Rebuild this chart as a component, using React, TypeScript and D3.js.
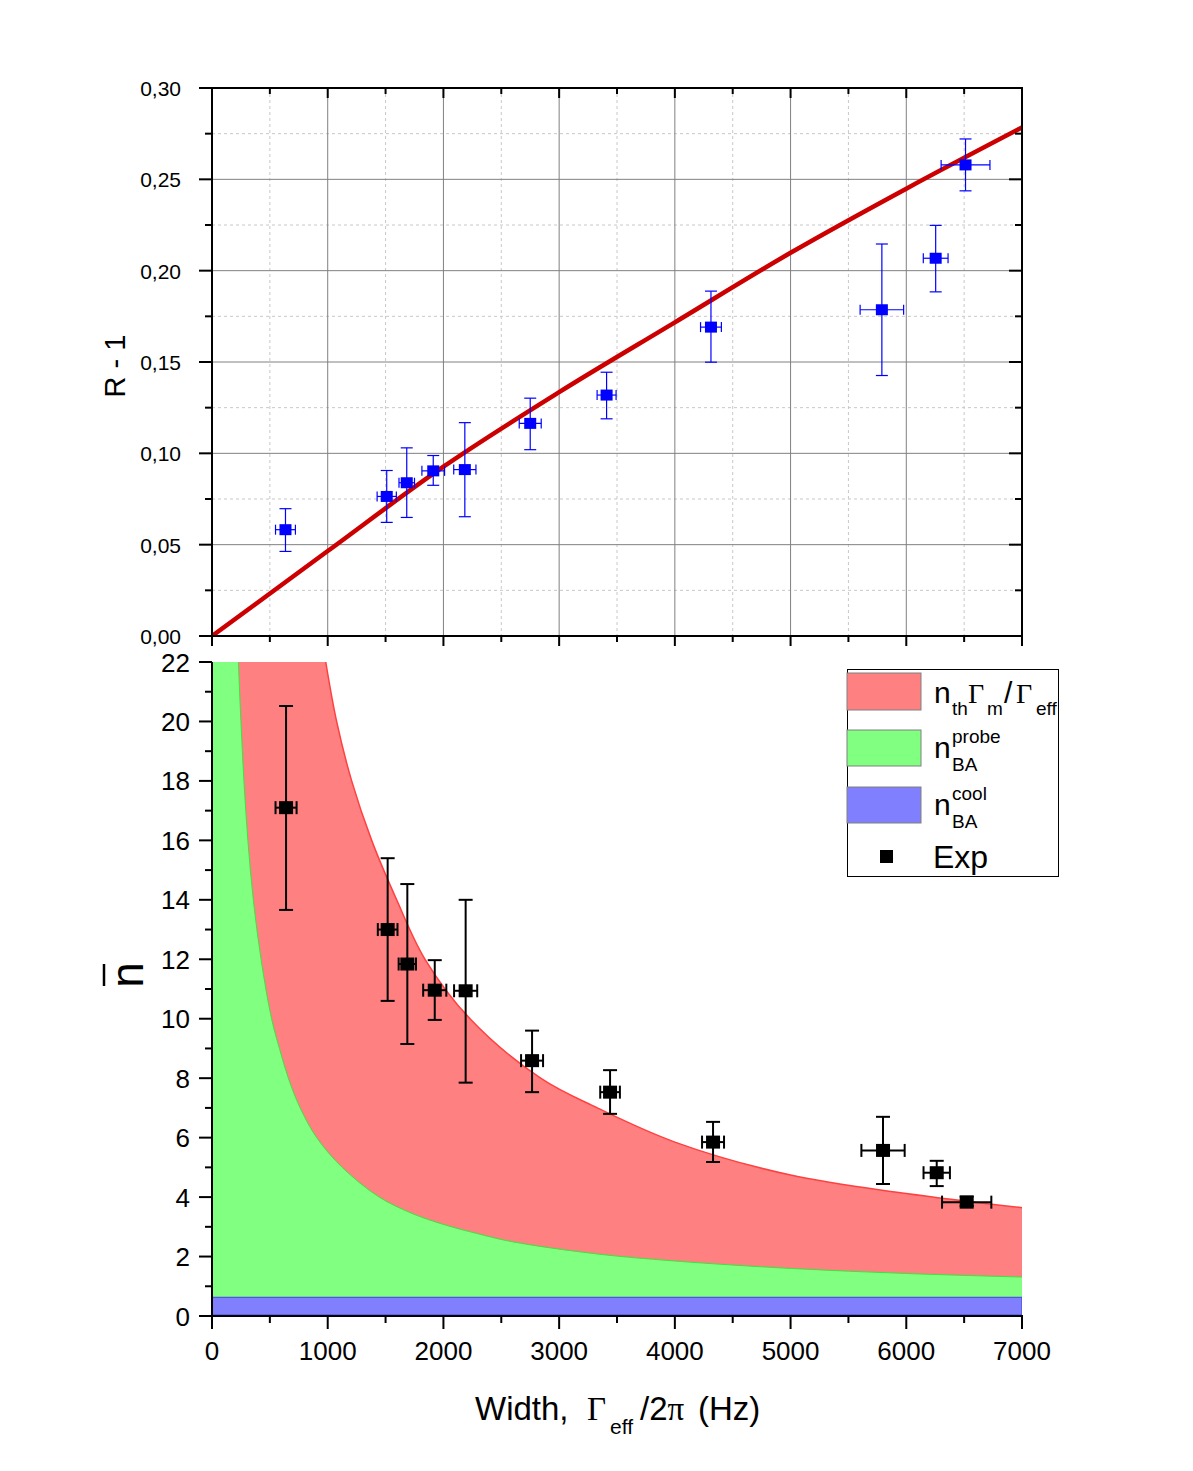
import React from "react";
import * as d3 from "d3";

// axes
const widthTicks = [0, 1000, 2000, 3000, 4000, 5000, 6000, 7000];
const ratioTicks = [0, 0.05, 0.1, 0.15, 0.2, 0.25, 0.3];
const ratioTickLabels = ["0,00", "0,05", "0,10", "0,15", "0,20", "0,25", "0,30"];
const occupancyTicks = [0, 2, 4, 6, 8, 10, 12, 14, 16, 18, 20, 22];

// top panel: R - 1 measurements
const ratioWidth = [635, 1510, 1683, 1912, 2185, 2750, 3410, 4312, 5789, 6254, 6512];
const ratioWidthErr = [86, 83, 67, 98, 96, 95, 82, 90, 188, 107, 211];
const ratioValue = [0.0582, 0.0764, 0.0839, 0.0904, 0.0911, 0.1164, 0.1319, 0.1691, 0.1786, 0.2068, 0.2579];
const ratioLow = [0.0463, 0.0622, 0.0649, 0.0825, 0.0653, 0.102, 0.1189, 0.1499, 0.1426, 0.1884, 0.2437];
const ratioHigh = [0.0697, 0.0906, 0.103, 0.0988, 0.1168, 0.1302, 0.1444, 0.1888, 0.2146, 0.2248, 0.2721];

// top panel: fit line
const fitWidth = [0, 1000, 2000, 3000, 4000, 5000, 6000, 7000];
const fitValue = [0, 0.0465, 0.0927, 0.1335, 0.1717, 0.2098, 0.2449, 0.2784];

// bottom panel: occupancy measurements
const occWidth = [640, 1518, 1688, 1925, 2192, 2766, 3440, 4330, 5799, 6263, 6522];
const occWidthErr = [91, 85, 75, 100, 100, 95, 85, 95, 187, 114, 213];
const occValue = [17.1, 13.0, 11.84, 10.96, 10.94, 8.59, 7.53, 5.85, 5.57, 4.82, 3.83];
const occLow = [13.66, 10.6, 9.15, 9.96, 7.85, 7.53, 6.8, 5.18, 4.44, 4.37, 3.7];
const occHigh = [20.52, 15.4, 14.53, 11.97, 14.0, 9.6, 8.27, 6.53, 6.7, 5.22, 4.02];

// bottom panel: stacked contributions (upper edges)
const thermalWidth = [983, 1077, 1207, 1380, 1596, 1841, 2230, 2840, 3330, 4000, 5000, 6000, 7000];
const thermalTop = [22, 20, 18, 16, 14, 12, 10, 8, 7, 5.85, 4.74, 4.12, 3.64];
const probeWidth = [228, 250, 276, 310, 357, 424, 515, 583, 660, 762, 905, 1125, 1441, 1729, 2017, 2305, 2593, 3300, 4000, 5000, 6000, 7000];
const probeTop = [22, 20, 18, 16, 14, 12, 10, 9, 8, 7, 6, 5, 4.01, 3.45, 3.06, 2.76, 2.5, 2.1, 1.85, 1.6, 1.43, 1.31];
const coolWidth = [0, 7000];
const coolTop = [0.63, 0.63];

const SANS = "'Liberation Sans', Arial, sans-serif";
const SERIF = "'Liberation Serif', 'Times New Roman', serif";

const App: React.FC = () => {
  const W = 1193;
  const H = 1471;

  const x = d3.scaleLinear().domain([0, 7000]).range([212, 1022]);
  const yTop = d3.scaleLinear().domain([0, 0.3]).range([636, 88]);
  const yBot = d3.scaleLinear().domain([0, 22]).range([1316, 662]);

  const midTicks = (t: number[]) => d3.pairs(t).map(([a, b]) => (a + b) / 2);
  const xMinor = midTicks(widthTicks);
  const ratioMinor = midTicks(ratioTicks);
  const occMinor = midTicks(occupancyTicks);

  const fitLine =
    d3
      .line<number>()
      .x((d) => x(d))
      .y((_, i) => yTop(fitValue[i]))
      .curve(d3.curveMonotoneX)(fitWidth) || "";

  // upper edge of a band, and the filled region from x=0 (top of panel) down along it
  const bandEdge = (xs: number[], ys: number[]) =>
    d3
      .line<number>()
      .x((d) => x(d))
      .y((_, i) => yBot(ys[i]))
      .curve(d3.curveCatmullRom.alpha(0.5))(xs) || "";
  const bandPath = (xs: number[], ys: number[]) =>
    `M${x(0)},${yBot(0)}L${x(0)},${yBot(22)}` +
    bandEdge(xs, ys).replace(/^M/, "L") +
    `L${x(xs[xs.length - 1])},${yBot(0)}Z`;

  const coolArea =
    d3
      .area<number>()
      .x((d) => x(d))
      .y0(yBot(0) - 1)
      .y1((_, i) => yBot(coolTop[i]))(coolWidth) || "";

  return (
    <svg
      width={W}
      height={H}
      style={{ position: "absolute", left: 0, top: 0, background: "#fff" }}
      fontFamily={SANS}
    >
      <defs>
        <clipPath id="botClip">
          <rect x={212} y={662} width={810} height={653} />
        </clipPath>
        <clipPath id="topClip">
          <rect x={212} y={88} width={810} height={548} />
        </clipPath>
      </defs>

      {/* ===== Top panel ===== */}
      <g>
        {/* minor grid */}
        {xMinor.map((v) => (
          <line key={"gxm" + v} x1={x(v)} x2={x(v)} y1={88} y2={636} stroke="#c8c8c8" strokeDasharray="3,3" />
        ))}
        {ratioMinor.map((v) => (
          <line key={"gym" + v} x1={212} x2={1022} y1={yTop(v)} y2={yTop(v)} stroke="#c8c8c8" strokeDasharray="3,3" />
        ))}
        {/* major grid */}
        {widthTicks.slice(1, -1).map((v) => (
          <line key={"gx" + v} x1={x(v)} x2={x(v)} y1={88} y2={636} stroke="#808080" />
        ))}
        {ratioTicks.slice(1, -1).map((v) => (
          <line key={"gy" + v} x1={212} x2={1022} y1={yTop(v)} y2={yTop(v)} stroke="#808080" />
        ))}

        {/* fit */}
        <path d={fitLine} fill="none" stroke="#cc0000" strokeWidth={4.5} clipPath="url(#topClip)" />

        {/* error bars + points */}
        {ratioWidth.map((w, i) => {
          const cx = x(w);
          const cy = yTop(ratioValue[i]);
          const xl = x(w - ratioWidthErr[i]);
          const xr = x(w + ratioWidthErr[i]);
          const yh = yTop(ratioHigh[i]);
          const yl = yTop(ratioLow[i]);
          return (
            <g key={"rp" + i} stroke="#0000ff" strokeWidth={1.2}>
              <line x1={cx} x2={cx} y1={yh} y2={yl} />
              <line x1={cx - 6} x2={cx + 6} y1={yh} y2={yh} />
              <line x1={cx - 6} x2={cx + 6} y1={yl} y2={yl} />
              <line x1={xl} x2={xr} y1={cy} y2={cy} />
              <line x1={xl} x2={xl} y1={cy - 5} y2={cy + 5} />
              <line x1={xr} x2={xr} y1={cy - 5} y2={cy + 5} />
              <rect x={cx - 6} y={cy - 5.5} width={12} height={11} fill="#0000ff" stroke="none" />
            </g>
          );
        })}

        {/* frame */}
        <rect x={212} y={88} width={810} height={548} fill="none" stroke="#000" strokeWidth={2} />

        {/* left ticks (outward) */}
        {ratioTicks.map((v, i) => (
          <g key={"lt" + v}>
            <line x1={199} x2={212} y1={yTop(v)} y2={yTop(v)} stroke="#000" strokeWidth={2} />
            <text x={181} y={yTop(v) + 8} fontSize={21} textAnchor="end">
              {ratioTickLabels[i]}
            </text>
          </g>
        ))}
        {ratioMinor.map((v) => (
          <line key={"ltm" + v} x1={205} x2={212} y1={yTop(v)} y2={yTop(v)} stroke="#000" strokeWidth={2} />
        ))}
        {/* right ticks (inward) */}
        {ratioTicks.map((v) => (
          <line key={"rt" + v} x1={1009} x2={1022} y1={yTop(v)} y2={yTop(v)} stroke="#000" strokeWidth={2} />
        ))}
        {ratioMinor.map((v) => (
          <line key={"rtm" + v} x1={1015} x2={1022} y1={yTop(v)} y2={yTop(v)} stroke="#000" strokeWidth={2} />
        ))}
        {/* top ticks (inward) and bottom ticks (outward) */}
        {widthTicks.map((v) => (
          <g key={"tt" + v}>
            <line x1={x(v)} x2={x(v)} y1={88} y2={98} stroke="#000" strokeWidth={2} />
            <line x1={x(v)} x2={x(v)} y1={636} y2={646} stroke="#000" strokeWidth={2} />
          </g>
        ))}
        {xMinor.map((v) => (
          <g key={"ttm" + v}>
            <line x1={x(v)} x2={x(v)} y1={88} y2={94} stroke="#000" strokeWidth={2} />
            <line x1={x(v)} x2={x(v)} y1={636} y2={642} stroke="#000" strokeWidth={2} />
          </g>
        ))}

        <text transform="translate(125,366) rotate(-90)" fontSize={29} textAnchor="middle">
          R - 1
        </text>
      </g>

      {/* ===== Bottom panel ===== */}
      <g>
        <g clipPath="url(#botClip)">
          <path d={bandPath(thermalWidth, thermalTop)} fill="#ff8080" />
          <path d={bandEdge(thermalWidth, thermalTop)} fill="none" stroke="#ff4040" strokeWidth={1.5} />
          <path d={bandPath(probeWidth, probeTop)} fill="#80ff80" />
          <path d={bandEdge(probeWidth, probeTop)} fill="none" stroke="#40e040" strokeWidth={1} />
          <path d={coolArea} fill="#8080ff" stroke="#4040e0" strokeWidth={1} />
        </g>

        {occWidth.map((w, i) => {
          const cx = x(w);
          const cy = yBot(occValue[i]);
          const xl = x(w - occWidthErr[i]);
          const xr = x(w + occWidthErr[i]);
          const yh = yBot(occHigh[i]);
          const yl = yBot(occLow[i]);
          return (
            <g key={"op" + i} stroke="#000" strokeWidth={2}>
              <line x1={cx} x2={cx} y1={yh} y2={yl} />
              <line x1={cx - 7} x2={cx + 7} y1={yh} y2={yh} />
              <line x1={cx - 7} x2={cx + 7} y1={yl} y2={yl} />
              <line x1={xl} x2={xr} y1={cy} y2={cy} />
              <line x1={xl} x2={xl} y1={cy - 6.5} y2={cy + 6.5} />
              <line x1={xr} x2={xr} y1={cy - 6.5} y2={cy + 6.5} />
              <rect x={cx - 7} y={cy - 6.5} width={14} height={13} fill="#000" stroke="none" />
            </g>
          );
        })}

        {/* axes */}
        <line x1={212} x2={212} y1={662} y2={1317} stroke="#000" strokeWidth={2} />
        <line x1={211} x2={1023} y1={1316} y2={1316} stroke="#000" strokeWidth={2} />
        {occupancyTicks.map((v) => (
          <g key={"bl" + v}>
            <line x1={199} x2={212} y1={yBot(v)} y2={yBot(v)} stroke="#000" strokeWidth={2} />
            <text x={190} y={yBot(v) + 9.5} fontSize={26} textAnchor="end">
              {v}
            </text>
          </g>
        ))}
        {occMinor.map((v) => (
          <line key={"blm" + v} x1={205} x2={212} y1={yBot(v)} y2={yBot(v)} stroke="#000" strokeWidth={2} />
        ))}
        {widthTicks.map((v) => (
          <g key={"bx" + v}>
            <line x1={x(v)} x2={x(v)} y1={1316} y2={1329} stroke="#000" strokeWidth={2} />
            <text x={x(v)} y={1360} fontSize={26} textAnchor="middle">
              {v}
            </text>
          </g>
        ))}
        {xMinor.map((v) => (
          <line key={"bxm" + v} x1={x(v)} x2={x(v)} y1={1316} y2={1323} stroke="#000" strokeWidth={2} />
        ))}

        {/* y label: n with overbar */}
        <g transform="translate(143,975) rotate(-90)">
          <text x={0} y={0} fontSize={46} textAnchor="middle">
            n
          </text>
          <line x1={-11} x2={11} y1={-39} y2={-39} stroke="#000" strokeWidth={2.5} />
        </g>

        {/* x label */}
        <text y={1420} fontSize={33}>
          <tspan x={475}>Width,</tspan>
          <tspan x={587} fontFamily={SERIF}>Γ</tspan>
          <tspan x={610} y={1434} fontSize={21}>eff</tspan>
          <tspan x={640} y={1420}>/2</tspan>
          <tspan fontFamily={SERIF}>π</tspan>
          <tspan x={698}>(Hz)</tspan>
        </text>

        {/* legend */}
        <g>
          <rect x={847.5} y={669.5} width={211} height={207} fill="#fff" stroke="#000" strokeWidth={1} />
          <rect x={847} y={673} width={74} height={37} fill="#ff8080" stroke="#808080" strokeWidth={1} />
          <rect x={847} y={730} width={74} height={36} fill="#80ff80" stroke="#808080" strokeWidth={1} />
          <rect x={847} y={787} width={74} height={36} fill="#8080ff" stroke="#808080" strokeWidth={1} />
          <rect x={880} y={850} width={13} height={13} fill="#000" />

          <text y={703} fontSize={30}>
            <tspan x={934}>n</tspan>
            <tspan x={952} y={715} fontSize={19}>th</tspan>
            <tspan x={968} y={703} fontFamily={SERIF} fontSize={28}>Γ</tspan>
            <tspan x={987} y={715} fontSize={19}>m</tspan>
            <tspan x={1004} y={703}>/</tspan>
            <tspan x={1016} fontFamily={SERIF} fontSize={28}>Γ</tspan>
            <tspan x={1036} y={715} fontSize={19}>eff</tspan>
          </text>

          <text fontSize={30}>
            <tspan x={934} y={758}>n</tspan>
            <tspan x={952} y={743} fontSize={19}>probe</tspan>
            <tspan x={952} y={771} fontSize={19}>BA</tspan>
          </text>
          <text fontSize={30}>
            <tspan x={934} y={815}>n</tspan>
            <tspan x={952} y={800} fontSize={19}>cool</tspan>
            <tspan x={952} y={828} fontSize={19}>BA</tspan>
          </text>
          <text x={933} y={868} fontSize={32}>
            Exp
          </text>
        </g>
      </g>
    </svg>
  );
};

export default App;
